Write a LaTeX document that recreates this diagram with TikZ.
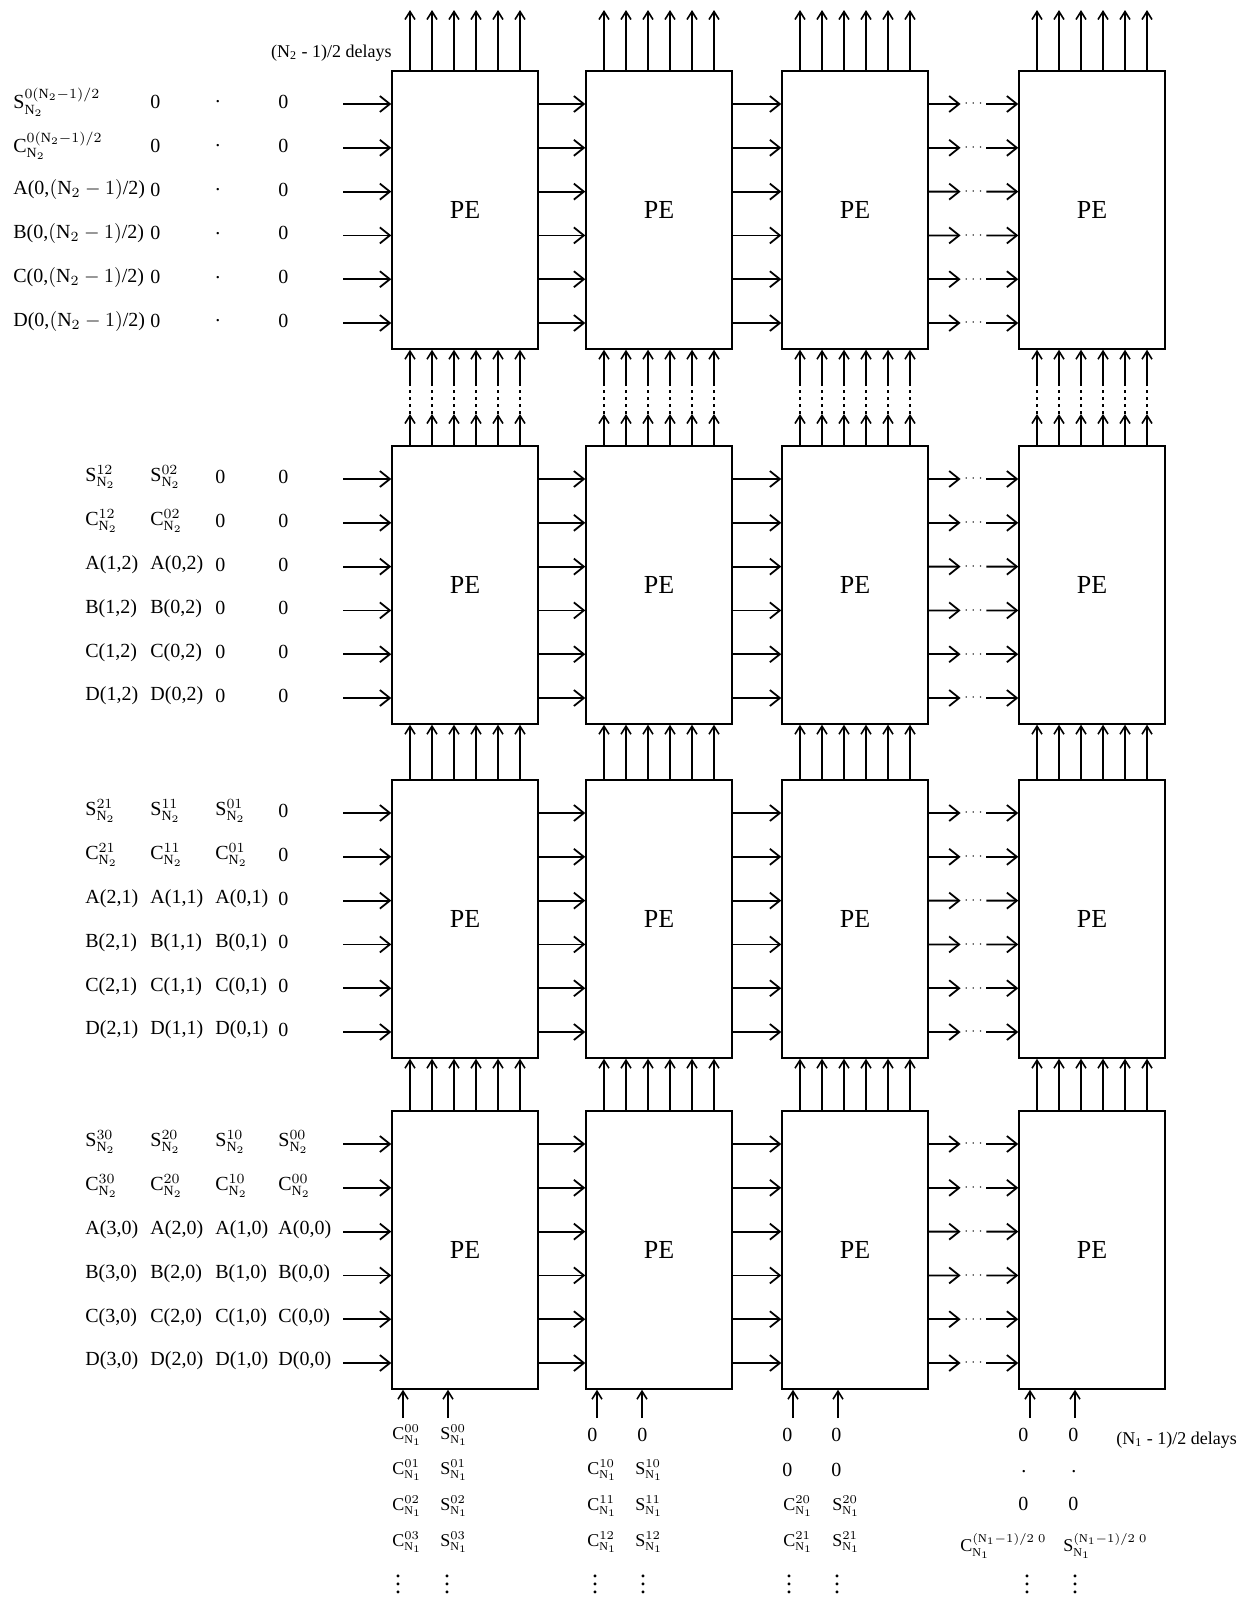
\documentclass[tikz,border=0pt]{standalone}
\usepackage{fontspec}
\setmainfont{Liberation Serif}
\usetikzlibrary{arrows.meta,calc}

\newcommand{\Sterm}[2]{$\mathrm{S}^{#1}_{\mathrm{N}_{#2}}$}
\newcommand{\Cterm}[2]{$\mathrm{C}^{#1}_{\mathrm{N}_{#2}}$}

\begin{document}
\begin{tikzpicture}[x=0.5pt, y=-0.5pt,
  pe/.style={draw, line width=0.7pt, minimum width=73pt, minimum height=139pt,
             inner sep=0pt, font=\fontsize{13}{15}\selectfont},
  a/.style={-{Straight Barb[length=5pt,width=8pt]}, line width=0.9pt},
  up/.style={-{Straight Barb[length=4pt,width=5pt]}, line width=0.8pt},
  lbl/.style={anchor=west, inner sep=0pt, yshift=1pt, font=\fontsize{10}{12}\selectfont},
  blbl/.style={lbl, font=\fontsize{9}{10}\selectfont},
  vd/.style={inner sep=0pt, font=\fontsize{12}{14}\selectfont},
  dly/.style={inner sep=0pt, font=\fontsize{9}{11}\selectfont},
  gap/.style={minimum width=12.5pt, inner sep=0pt, font=\fontsize{6}{7}\selectfont}]

  \useasboundingbox (0,0) rectangle (1240,1597);

  % processing elements
  \foreach \r/\y in {1/210, 2/585, 3/919, 4/1250}
    \foreach \c/\x in {1/465, 2/659, 3/855, 4/1092}
      \node[pe] (pe\r\c) at (\x,\y) {PE};

  % port lines
  \foreach \r/\t in {1/71, 2/446, 3/780, 4/1111}
    \foreach \k in {0,...,5}
      \coordinate (h\r\k) at (343, {\t+33+43.8*\k});
  \foreach \c/\x in {1/392, 2/586, 3/782, 4/1019}
    \foreach \k in {0,...,5}
      \coordinate (v\c\k) at ({\x+18+22*\k}, 10);
  \coordinate (gapa) at (0,414);
  \coordinate (gapb) at (0,384);

  % label columns
  \coordinate (x0) at (13,0);
  \coordinate (x1) at (85,0);
  \coordinate (x2) at (150,0);
  \coordinate (x3) at (215,0);
  \coordinate (x4) at (278,0);

  % horizontal links
  \foreach \r in {1,...,4}
    \foreach \k in {0,...,5} {
      \draw[a] (h\r\k) -- (pe\r1.west |- h\r\k);
      \draw[a] (pe\r1.east |- h\r\k) -- (pe\r2.west |- h\r\k);
      \draw[a] (pe\r2.east |- h\r\k) -- (pe\r3.west |- h\r\k);
      \node[gap] (dt\r\k) at ($(pe\r3.east |- h\r\k)!0.5!(pe\r4.west |- h\r\k)$) {$\cdots$};
      \draw[a] (pe\r3.east |- h\r\k) -- (dt\r\k);
      \draw[a] (dt\r\k) -- (pe\r4.west |- h\r\k);
    }

  % vertical links
  \foreach \c in {1,...,4}
    \foreach \k in {0,...,5} {
      \draw[up] (pe1\c.north -| v\c\k) -- (v\c\k);
      \draw[up] (pe2\c.north -| v\c\k) -- (v\c\k |- gapa);
      \draw[line width=1pt, dash pattern=on 1.5pt off 2pt] (v\c\k |- gapa) -- (v\c\k |- gapb);
      \draw[up] (v\c\k |- gapb) -- (pe1\c.south -| v\c\k);
      \draw[up] (pe3\c.north -| v\c\k) -- (pe2\c.south -| v\c\k);
      \draw[up] (pe4\c.north -| v\c\k) -- (pe3\c.south -| v\c\k);
    }

  % bottom inputs
  \foreach \c/\x in {1/392, 2/586, 3/782, 4/1019} {
    \coordinate (bc\c) at (\x+11, 1418);
    \coordinate (bs\c) at (\x+56, 1418);
    \draw[up] (bc\c) -- (pe4\c.south -| bc\c);
    \draw[up] (bs\c) -- (pe4\c.south -| bs\c);
  }

  \node[dly, anchor=east] (dly2) at (392,53) {(N\textsubscript{2} - 1)/2 delays};
  \node[dly, anchor=west] (dly1) at (1116,1440) {(N\textsubscript{1} - 1)/2 delays};

  % row 1 inputs
  \node[lbl] (l10-a) at (x0 |- h10) {\Sterm{0(\mathrm{N}_2-1)/2}{2}};
  \node[lbl] (l11-a) at (x0 |- h11) {\Cterm{0(\mathrm{N}_2-1)/2}{2}};
  \foreach \L [count=\k from 2] in {A,B,C,D}
    \node[lbl] (l1\k-a) at (x0 |- h1\k) {\L(0,$(\mathrm{N}_2-1)$/2)};
  \foreach \k in {0,...,5} {
    \node[lbl] (l1\k-b) at (x2 |- h1\k) {0};
    \node[lbl] (l1\k-c) at (x3 |- h1\k) {.};
    \node[lbl] (l1\k-d) at (x4 |- h1\k) {0};
  }

  % row 2 inputs
  \node[lbl] (l20-a) at (x1 |- h20) {\Sterm{12}{2}};
  \node[lbl] (l20-b) at (x2 |- h20) {\Sterm{02}{2}};
  \node[lbl] (l21-a) at (x1 |- h21) {\Cterm{12}{2}};
  \node[lbl] (l21-b) at (x2 |- h21) {\Cterm{02}{2}};
  \foreach \L [count=\k from 2] in {A,B,C,D} {
    \node[lbl] (l2\k-a) at (x1 |- h2\k) {\L(1,2)};
    \node[lbl] (l2\k-b) at (x2 |- h2\k) {\L(0,2)};
  }
  \foreach \k in {0,...,5} {
    \node[lbl] (l2\k-c) at (x3 |- h2\k) {0};
    \node[lbl] (l2\k-d) at (x4 |- h2\k) {0};
  }

  % row 3 inputs
  \node[lbl] (l30-a) at (x1 |- h30) {\Sterm{21}{2}};
  \node[lbl] (l30-b) at (x2 |- h30) {\Sterm{11}{2}};
  \node[lbl] (l30-c) at (x3 |- h30) {\Sterm{01}{2}};
  \node[lbl] (l31-a) at (x1 |- h31) {\Cterm{21}{2}};
  \node[lbl] (l31-b) at (x2 |- h31) {\Cterm{11}{2}};
  \node[lbl] (l31-c) at (x3 |- h31) {\Cterm{01}{2}};
  \foreach \L [count=\k from 2] in {A,B,C,D} {
    \node[lbl] (l3\k-a) at (x1 |- h3\k) {\L(2,1)};
    \node[lbl] (l3\k-b) at (x2 |- h3\k) {\L(1,1)};
    \node[lbl] (l3\k-c) at (x3 |- h3\k) {\L(0,1)};
  }
  \foreach \k in {0,...,5}
    \node[lbl] (l3\k-d) at (x4 |- h3\k) {0};

  % row 4 inputs
  \foreach \i/\col in {3/x1, 2/x2, 1/x3, 0/x4} {
    \node[lbl] (l40-\i) at (\col |- h40) {\Sterm{\i0}{2}};
    \node[lbl] (l41-\i) at (\col |- h41) {\Cterm{\i0}{2}};
  }
  \foreach \L [count=\k from 2] in {A,B,C,D}
    \foreach \i/\col in {3/x1, 2/x2, 1/x3, 0/x4}
      \node[lbl] (l4\k-\i) at (\col |- h4\k) {\L(\i,0)};

  % bottom inputs, column 1
  \foreach \k/\y in {0/1437, 1/1472, 2/1508, 3/1544} {
    \node[blbl] (b1\k-c) at (392,\y) {\Cterm{0\k}{1}};
    \node[blbl] (b1\k-s) at (440,\y) {\Sterm{0\k}{1}};
  }
  % column 2
  \node[lbl] (b20-c) at (587,1437) {0};
  \node[lbl] (b20-s) at (637,1437) {0};
  \foreach \k/\y in {0/1472, 1/1508, 2/1544} {
    \node[blbl] (b2\k-c1) at (587,\y) {\Cterm{1\k}{1}};
    \node[blbl] (b2\k-s1) at (635,\y) {\Sterm{1\k}{1}};
  }
  % column 3
  \foreach \k/\y in {0/1437, 1/1472} {
    \node[lbl] (b3\k-c) at (782,\y) {0};
    \node[lbl] (b3\k-s) at (831,\y) {0};
  }
  \foreach \k/\y in {0/1508, 1/1544} {
    \node[blbl] (b3\k-c2) at (783,\y) {\Cterm{2\k}{1}};
    \node[blbl] (b3\k-s2) at (832,\y) {\Sterm{2\k}{1}};
  }
  % column 4
  \node[lbl] (b40-c) at (1018,1437) {0};
  \node[lbl] (b40-s) at (1068,1437) {0};
  \node[lbl] (b41-c) at (1021,1474) {.};
  \node[lbl] (b41-s) at (1071,1474) {.};
  \node[lbl] (b42-c) at (1018,1506) {0};
  \node[lbl] (b42-s) at (1068,1506) {0};
  \node[blbl] (b43-c) at (960,1548) {\Cterm{(\mathrm{N}_1-1)/2\;0}{1}};
  \node[blbl] (b43-s) at (1063,1548) {\Sterm{(\mathrm{N}_1-1)/2\;0}{1}};

  % continuation dots
  \foreach \x [count=\n] in {398, 447, 595, 643, 789, 837, 1027, 1075}
    \node[vd] (vd\n) at (\x,1578) {$\vdots$};

\end{tikzpicture}
\end{document}
